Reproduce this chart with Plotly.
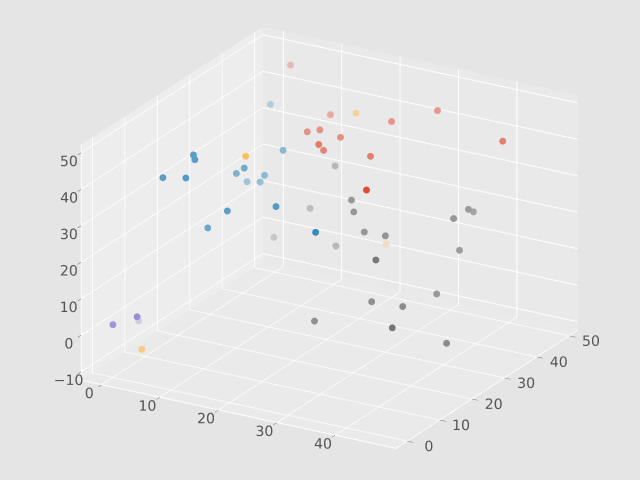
import numpy as np
import plotly.graph_objects as go

# one list per colour group, in data units
red_x = [3.5, 13.1, 29.5, 24.9, 14.8, 16.4, 19.6, 21.1, 20.2, 43.5, 26.9, 37.1]
red_y = [48.5, 43.5, 47.0, 41.1, 33.3, 34.3, 34.9, 25.5, 28.6, 41.9, 31.0, 11.4]
red_z = [46.5, 39.1, 43.9, 42.7, 40.9, 41.4, 40.1, 44.1, 40.4, 43.3, 39.7, 45.3]

blue_x = [2.6, 11.6, 7.8, 8.7, 4.9, 9.0, 11.0, 8.1, 9.7, 4.6, 7.5, 21.1, 14.0, 9.2, 32.0]
blue_y = [43.9, 31.6, 10.8, 9.6, 6.6, 6.3, 20.7, 23.5, 29.3, 33.1, 31.9, 12.3, 10.1, 12.7, 4.9]
blue_z = [38.1, 35.7, 45.1, 44.8, 40.3, 41.8, 36.9, 32.8, 29.5, 23.8, 25.4, 34.7, 32.3, 24.5, 35.7]

purple_x = [0.0, 3.2, 0.8]
purple_y = [0.0, 1.7, 6.5]
purple_z = [2.1, 4.4, -0.3]

gray_x = [15.9, 26.7, 11.9, 27.6, 41.4, 39.2, 40.3, 29.4, 33.0, 5.7,
          17.7, 40.7, 39.6, 39.9, 34.1, 39.2, 27.2, 43.8, 46.1]
gray_y = [39.9, 25.5, 39.4, 24.6, 35.1, 40.6, 32.5, 24.6, 24.6, 39.4,
          36.9, 33.6, 9.8, 28.0, 18.4, 18.8, 13.2, 7.3, 19.9]
gray_z = [28.1, 30.8, 15.4, 28.4, 27.8, 23.2, 26.4, 23.5, 23.7, 5.3,
          8.5, 17.2, 27.9, 8.2, 9.6, 9.8, 4.9, 12.2, 1.5]

yellow_x = [21.2, 12.3, 26.3, 1.8]
yellow_y = [36.8, 18.8, 36.9, 5.7]
yellow_z = [46.2, 41.7, 12.0, -7.3]

x_ticks = [0, 10, 20, 30, 40]
y_ticks = [0, 10, 20, 30, 40, 50]
z_ticks = [-10, 0, 10, 20, 30, 40, 50]

x_range = [-3.49, 50.41]
y_range = [-3.44, 52.60]
z_range = [-12.38, 52.21]

aspect = dict(x=1.53, y=1.53, z=1.07)
view = np.array([0.4636, -0.803, 0.375])  # camera direction
eye_dist = 1.8
pane_bg = np.array([233, 233, 233])


def shaded(color, xs, ys, zs):
    # matplotlib-like depth shading: farther points fade towards the pane colour
    xs, ys, zs = np.asarray(xs), np.asarray(ys), np.asarray(zs)
    nx = (xs - x_range[0]) / (x_range[1] - x_range[0]) * aspect["x"]
    ny = (ys - y_range[0]) / (y_range[1] - y_range[0]) * aspect["y"]
    nz = (zs - z_range[0]) / (z_range[1] - z_range[0]) * aspect["z"]
    depth = -(nx * view[0] + ny * view[1] + nz * view[2])
    span = depth.max() - depth.min()
    a = 1 - 0.7 * (depth - depth.min()) / (span if span > 0 else 1)
    base = np.array([int(color[i:i + 2], 16) for i in (1, 3, 5)])
    out = []
    for ai in a:
        c = base * ai + pane_bg * (1 - ai)
        out.append("rgb(%d,%d,%d)" % tuple(np.round(c)))
    return out


fig = go.Figure()
for color, xs, ys, zs in [
    ("#E24A33", red_x, red_y, red_z),
    ("#348ABD", blue_x, blue_y, blue_z),
    ("#988ED5", purple_x, purple_y, purple_z),
    ("#777777", gray_x, gray_y, gray_z),
    ("#FBC15E", yellow_x, yellow_y, yellow_z),
]:
    fig.add_trace(
        go.Scatter3d(
            x=xs,
            y=ys,
            z=zs,
            mode="markers",
            marker=dict(size=4, color=shaded(color, xs, ys, zs), line=dict(width=0)),
            showlegend=False,
        )
    )

axis_style = dict(
    title=dict(text=""),
    showgrid=True,
    gridcolor="white",
    gridwidth=2,
    showbackground=True,
    zeroline=False,
    showline=True,
    linecolor="white",
    linewidth=2,
    ticks="outside",
    ticklen=7,
    tickcolor="#555555",
    tickangle=0,
    tickfont=dict(family="DejaVu Sans", size=13, color="#555555"),
    showspikes=False,
)

fig.update_layout(
    width=640,
    height=480,
    margin=dict(l=0, r=0, t=0, b=0),
    paper_bgcolor="#E5E5E5",
    scene=dict(
        domain=dict(x=[0.03, 1], y=[0.01, 1]),
        xaxis=dict(axis_style, range=x_range, tickvals=x_ticks, backgroundcolor="#EDEDED"),
        yaxis=dict(axis_style, range=y_range, tickvals=y_ticks, backgroundcolor="#E9E9E9"),
        zaxis=dict(axis_style, range=z_range, tickvals=z_ticks, backgroundcolor="#EAEAEA"),
        aspectmode="manual",
        aspectratio=aspect,
        camera=dict(
            eye=dict(x=view[0] * eye_dist, y=view[1] * eye_dist, z=view[2] * eye_dist),
            up=dict(x=0, y=0, z=1),
            projection=dict(type="orthographic"),
        ),
    ),
)

fig.write_html(
    "out.html",
    config={"displayModeBar": False},
    post_script="document.body.style.margin='0';",
)
